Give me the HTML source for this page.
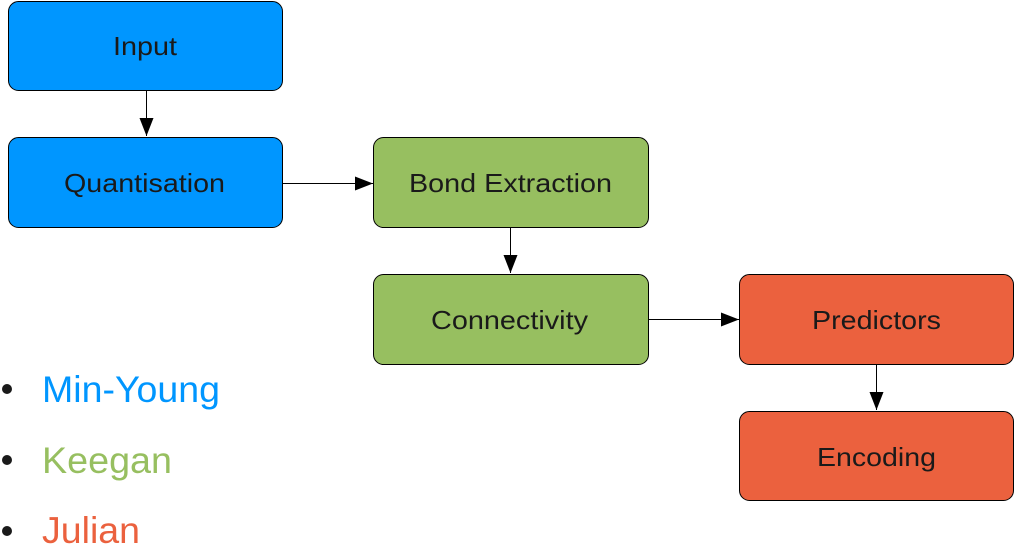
<!DOCTYPE html>
<html><head><style>
body{margin:0;width:1014px;height:544px;background:#fff;overflow:hidden;position:relative;font-family:"Liberation Sans",sans-serif}
</style></head><body>
<svg width="1014" height="544" style="position:absolute;left:0;top:0" font-family="Liberation Sans, sans-serif">
<defs><marker id="a" markerWidth="18" markerHeight="14" refX="18" refY="7" orient="auto" markerUnits="userSpaceOnUse"><path d="M0,0 L18,7 L0,14 z" fill="#000"/></marker></defs>
<g stroke="#000" stroke-width="1">
<rect x="8.5" y="1.5" width="274" height="89" rx="10" fill="#0096ff"/>
<rect x="8.5" y="137.5" width="274" height="90" rx="10" fill="#0096ff"/>
<rect x="373.5" y="137.5" width="275" height="90" rx="10" fill="#97bf60"/>
<rect x="373.5" y="274.5" width="275" height="90" rx="10" fill="#97bf60"/>
<rect x="739.5" y="274.5" width="274" height="90" rx="10" fill="#eb613e"/>
<rect x="739.5" y="411.5" width="274" height="89" rx="10" fill="#eb613e"/>
<line x1="146.5" y1="91" x2="146.5" y2="136" marker-end="url(#a)"/>
<line x1="283" y1="183.5" x2="373" y2="183.5" marker-end="url(#a)"/>
<line x1="510.5" y1="228" x2="510.5" y2="273" marker-end="url(#a)"/>
<line x1="649" y1="319.5" x2="739" y2="319.5" marker-end="url(#a)"/>
<line x1="876.5" y1="365" x2="876.5" y2="410" marker-end="url(#a)"/>
</g>
<g font-size="26" fill="#1a1a1a">
<text x="113" y="55" textLength="64" lengthAdjust="spacingAndGlyphs">Input</text>
<text x="64" y="192" textLength="161" lengthAdjust="spacingAndGlyphs">Quantisation</text>
<text x="409" y="192" textLength="203" lengthAdjust="spacingAndGlyphs">Bond Extraction</text>
<text x="431" y="329" textLength="157" lengthAdjust="spacingAndGlyphs">Connectivity</text>
<text x="812" y="329" textLength="129" lengthAdjust="spacingAndGlyphs">Predictors</text>
<text x="817" y="466" textLength="119" lengthAdjust="spacingAndGlyphs">Encoding</text>
</g>
<g font-size="37">
<circle cx="7" cy="389" r="5" fill="#1a1a1a"/>
<circle cx="7" cy="460" r="5" fill="#1a1a1a"/>
<circle cx="7" cy="531" r="5" fill="#1a1a1a"/>
<text x="42" y="402" fill="#0096ff" textLength="178" lengthAdjust="spacingAndGlyphs">Min-Young</text>
<text x="42" y="473" fill="#97bf60" textLength="130" lengthAdjust="spacingAndGlyphs">Keegan</text>
<text x="42" y="543" fill="#eb613e" textLength="98" lengthAdjust="spacingAndGlyphs">Julian</text>
</g>
</svg>
</body></html>
